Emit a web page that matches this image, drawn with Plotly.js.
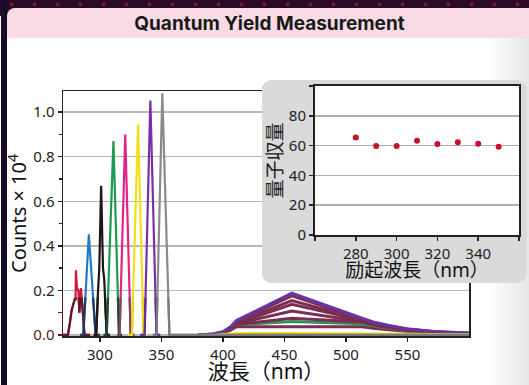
<!DOCTYPE html>
<html><head><meta charset="utf-8">
<script src="https://cdn.plot.ly/plotly-3.0.1.min.js"></script>
<style>
html,body{margin:0;padding:0;}
body{width:529px;height:385px;overflow:hidden;position:relative;background:linear-gradient(to right,#fff 0,#fff 488px,#e7e7e7 529px);}
#topband{position:absolute;left:0;top:0;width:529px;height:16px;background:#2a0a24;background-image:radial-gradient(circle,#7c1a38 1.6px,transparent 2.2px);background-size:23px 9px;}
#leftstrip{position:absolute;left:1px;top:0;width:6px;height:385px;background:#170c2a;}
#header{position:absolute;left:7px;top:8px;width:522px;height:30px;background:#f9dbe6;border-top-left-radius:8px;}
#main{position:absolute;left:0;top:0;width:529px;height:385px;}
#insetbox{position:absolute;left:262px;top:80px;width:265px;height:203px;background:#dadada;border-radius:9px;overflow:hidden;}
#inset{position:absolute;left:0;top:0;width:265px;height:203px;}
</style></head>
<body>
<div id="topband"></div>
<div id="leftstrip"></div>
<div id="header"></div>
<div id="main"></div>
<div id="insetbox"><div id="inset"></div></div>
<script>
// ---------- data ----------
const xTicks = [300, 350, 400, 450, 500, 550];
const yTicks = [0, 0.2, 0.4, 0.6, 0.8, 1.0];
const yTickText = ["<span style='color:#5c1a2b'>0.0</span>", "0.2", "0.4", "0.6", "0.8", "1.0"];

// excitation (scatter) peaks
const ex280X = [270, 274, 275.5, 277, 278.5, 279.5, 280.2, 280.5, 281.3, 282.5, 283.3, 284, 284.6, 285.3, 286.3, 287.5, 292];
const ex280Y = [0, 0, 0.05, 0.11, 0.14, 0.16, 0.16, 0.29, 0.21, 0.2, 0.1, 0.19, 0.21, 0.16, 0.06, 0, 0];
const ex290X = [284, 286.5, 291, 296.5, 300];
const ex290Y = [0, 0, 0.452, 0, 0];
const ex300X = [295, 297, 298.5, 299.5, 301, 302.5, 303.5, 305.5, 308];
const ex300Y = [0, 0, 0.2, 0.3, 0.67, 0.3, 0.25, 0, 0];
const ex310X = [303, 305.5, 311, 315.5, 318];
const ex310Y = [0, 0, 0.87, 0, 0];
const ex320X = [314, 316, 320.6, 325, 328];
const ex320Y = [0, 0, 0.90, 0, 0];
const ex330X = [323, 326, 331, 335.5, 338];
const ex330Y = [0, 0, 0.945, 0, 0];
const ex340X = [333, 336.3, 341, 346, 349];
const ex340Y = [0, 0, 1.052, 0, 0];
const ex350X = [343, 346, 350.7, 356.5, 600];
const ex350Y = [0, 0, 1.085, 0, 0];

const exX = [ex280X, ex290X, ex300X, ex310X, ex320X, ex330X, ex340X, ex350X];
const exY = [ex280Y, ex290Y, ex300Y, ex310Y, ex320Y, ex330Y, ex340Y, ex350Y];
const exColors = ['#d01836', '#1f7bc6', '#1e1414', '#1f9a4f', '#e0258a', '#f2df1a', '#7b2fa6', '#8a8a8a'];
const exLowColors = ['#5e1c2a', '#1f3a5a', '#231616', '#1d4a32', '#7d4566', '#e8d81c', '#6a2c9a', '#7a7a7a'];

// emission spectra
const emX = [380, 392, 400, 406, 411, 456, 513, 522, 535, 550, 572, 600];
const em1 = [0, 0.004, 0.014, 0.035, 0.065, 0.187, 0.075, 0.058, 0.042, 0.027, 0.015, 0.008];
const em2 = [0, 0.004, 0.013, 0.033, 0.060, 0.175, 0.072, 0.056, 0.040, 0.026, 0.014, 0.007];
const em3 = [0, 0.003, 0.012, 0.031, 0.056, 0.154, 0.068, 0.053, 0.038, 0.025, 0.013, 0.007];
const em4 = [0, 0.003, 0.011, 0.030, 0.052, 0.137, 0.065, 0.050, 0.036, 0.023, 0.012, 0.006];
const em5 = [0, 0.003, 0.010, 0.028, 0.050, 0.107, 0.060, 0.047, 0.034, 0.022, 0.012, 0.006];
const em6 = [0, 0.003, 0.010, 0.027, 0.047, 0.075, 0.058, 0.045, 0.032, 0.021, 0.011, 0.006];
const em7 = [0, 0.002, 0.009, 0.025, 0.045, 0.060, 0.050, 0.040, 0.030, 0.019, 0.010, 0.005];
const em8 = [0, 0.002, 0.008, 0.020, 0.037, 0.037, 0.037, 0.030, 0.022, 0.015, 0.008, 0.004];
const em9 = [0, 0, 0.004, 0.007, 0.008, 0.008, 0.008, 0.007, 0.006, 0.005, 0.004, 0.003];
const emY = [em8, em7, em6, em5, em4, em3, em2, em1, em9];
const emColors = ['#7b2d52', '#2f8f58', '#7b2d52', '#7b2d52', '#7b2d52', '#7b2d52', '#7b2d52', '#6a33a8', '#f2df1a'];
const emWidths = [3, 3, 3, 3, 3, 3, 3, 3, 2];

// inset: quantum yield
const qyX = [280, 290, 300, 310, 320, 330, 340, 350];
const qyY = [65.5, 59.7, 59.7, 63.2, 61.0, 62.3, 61.2, 59.3];
const qxTicks = [260, 280, 300, 320, 340, 360];
const qxTickText = [' ', '280', '300', '320', '340', ' '];
const qyTicks = [0, 20, 40, 60, 80, 100];
const qyTickText = ['0', '20', '40', '60', '80', ' '];

// ---------- main chart ----------
const FONT = "'Noto Sans', 'Noto Sans CJK JP', sans-serif";
const yMin = -0.005, yMax = 1.095, cut = 0.168;
const traces = [];
emY.forEach((ys, i) => traces.push({x: emX, y: ys, type: 'scatter', mode: 'lines',
  line: {color: emColors[i], width: emWidths[i]}, hoverinfo: 'skip'}));
exX.forEach((xs, i) => traces.push({x: xs, y: exY[i], type: 'scatter', mode: 'lines',
  line: {color: exColors[i], width: 2.2}, hoverinfo: 'skip'}));
exX.forEach((xs, i) => traces.push({x: xs, y: exY[i], type: 'scatter', mode: 'lines',
  xaxis: 'x2', yaxis: 'y2', line: {color: exLowColors[i], width: 2.2}, hoverinfo: 'skip'}));

const layout = {
  width: 529, height: 385,
  margin: {l: 63, r: 60, t: 91, b: 49},
  paper_bgcolor: 'rgba(0,0,0,0)', plot_bgcolor: 'rgba(0,0,0,0)',
  font: {family: FONT, color: '#222'},
  showlegend: false,
  title: {text: 'Quantum Yield Measurement', font: {family: 'Inter', size: 19, color: '#1a1a1a', weight: 700},
    x: 269.5 / 529, xref: 'container', y: 1 - 23 / 385, yref: 'container', xanchor: 'center', yanchor: 'middle'},
  xaxis: {range: [270, 600], tickvals: xTicks, ticks: 'outside', ticklen: 4, tickwidth: 1.5, tickcolor: '#222',
    showline: true, linecolor: '#222', linewidth: 1.5, mirror: true, showgrid: false, zeroline: false,
    tickfont: {size: 15, color: '#222'}, automargin: false,
    title: {text: '波長（nm）', font: {size: 21, color: '#111'}, standoff: 2}},
  yaxis: {range: [yMin, yMax], tickvals: yTicks, ticktext: yTickText, ticks: 'outside', ticklen: 4, tickwidth: 1.5,
    tickcolor: '#222', showline: true, linecolor: '#222', linewidth: 1.5, mirror: true,
    showgrid: true, gridcolor: '#b8b8b8', gridwidth: 1.5, zeroline: false, automargin: false,
    minor: {dtick: 0.1, tick0: 0, ticks: 'outside', ticklen: 3, tickcolor: '#222', showgrid: false},
    tickfont: {size: 15, color: '#222'},
    title: {text: 'Counts × 10<sup>4</sup>', font: {size: 20, color: '#111'}, standoff: 1}},
  xaxis2: {range: [270, 600], anchor: 'y2', visible: false, domain: [0, 1]},
  yaxis2: {range: [yMin, cut], domain: [0, (cut - yMin) / (yMax - yMin)], anchor: 'x2',
    showline: true, linecolor: '#5c1a2b', linewidth: 1.5, ticks: 'outside', tickvals: [0, 0.1], ticklen: 4,
    tickwidth: 1.5, tickcolor: '#5c1a2b', showticklabels: false, showgrid: false, zeroline: false}
};
Plotly.newPlot('main', traces, layout, {staticPlot: true});

// ---------- inset ----------
const insetLayout = {
  width: 265, height: 203,
  margin: {l: 53, r: 8, t: 6, b: 48},
  paper_bgcolor: 'rgba(0,0,0,0)', plot_bgcolor: '#ffffff',
  font: {family: FONT, color: '#222'},
  showlegend: false,
  xaxis: {range: [260, 360], tickvals: qxTicks, ticktext: qxTickText, ticks: 'outside', ticklen: 4, tickwidth: 1.5,
    tickcolor: '#222', showline: true, linecolor: '#222', linewidth: 2, mirror: true, showgrid: false, zeroline: false,
    tickfont: {size: 15, color: '#222'}, automargin: false,
    title: {text: '励起波長（nm）', font: {size: 19, color: '#111'}, standoff: 1}},
  yaxis: {range: [0, 100], tickvals: qyTicks, ticktext: qyTickText, ticks: 'outside', ticklen: 4, tickwidth: 1.5,
    tickcolor: '#222', showline: true, linecolor: '#222', linewidth: 2, mirror: true,
    showgrid: true, gridcolor: '#b0b0b0', gridwidth: 1.5, zeroline: false, automargin: false,
    tickfont: {size: 15, color: '#222'},
    title: {text: '量子収量', font: {size: 19, color: '#222'}, standoff: 4}}
};
Plotly.newPlot('inset', [{x: qyX, y: qyY, type: 'scatter', mode: 'markers',
  marker: {color: '#c8102e', size: 6}, hoverinfo: 'skip'}], insetLayout, {staticPlot: true});
</script>
</body></html>
